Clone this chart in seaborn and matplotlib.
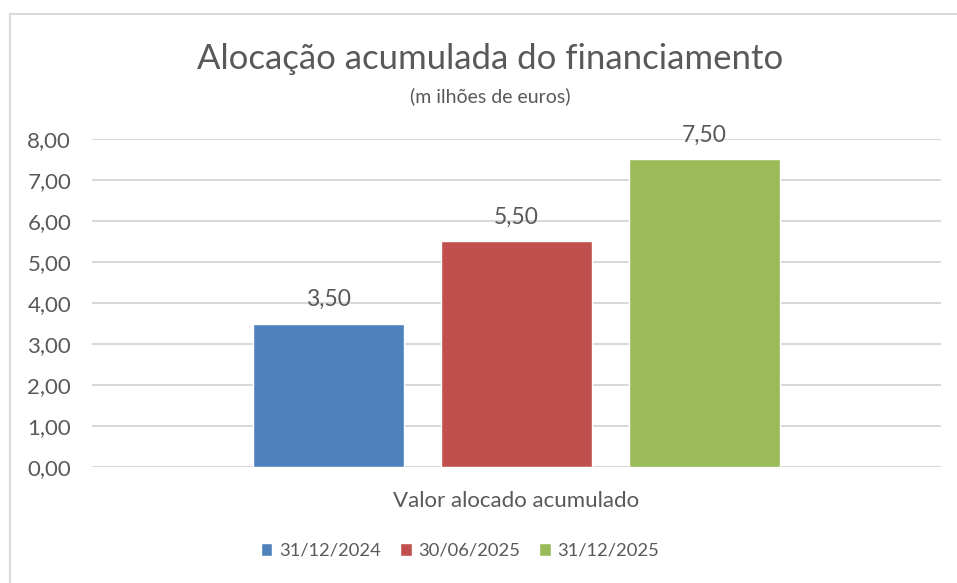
import matplotlib
matplotlib.use("Agg")
import matplotlib.pyplot as plt
from matplotlib.lines import Line2D
import seaborn as sns
import pandas as pd

category = ["Valor alocado acumulado"]
dates = ["31/12/2024", "30/06/2025", "31/12/2025"]
values = [3.50, 5.50, 7.50]
colors = ["#4F81BD", "#C0504D", "#9BBB59"]
yticks = [0, 1, 2, 3, 4, 5, 6, 7, 8]

df = pd.DataFrame({"cat": category * len(dates), "data": dates, "valor": values})

sns.set_theme(style="white")
plt.rcParams["font.family"] = ["Lato", "DejaVu Sans"]
text_color = "#595959"
grid_color = "#D9D9D9"

W, H = 957, 583
fig = plt.figure(figsize=(W / 100, H / 100), dpi=100)
ax = fig.add_axes([92 / W, 1 - 467 / H, (941 - 92) / W, (467 - 139) / H])

sns.barplot(data=df, x="cat", y="valor", hue="data", palette=colors,
            width=0.8, gap=0.2, saturation=1, ax=ax, legend=True)

ax.set_ylim(0, 8)
ax.set_xlim(-0.602, 0.602)
ax.set_yticks(yticks)
ax.set_yticklabels([f"{v:.2f}".replace(".", ",") for v in yticks],
                   color=text_color, fontsize=16)
ax.tick_params(axis="y", length=0, pad=15)
ax.tick_params(axis="x", length=0, pad=17, labelsize=16, labelcolor=text_color)
ax.set_xlabel("")
ax.set_ylabel("")
for s in ax.spines.values():
    s.set_visible(False)
ax.grid(axis="y", color=grid_color, linewidth=1.5)
ax.set_axisbelow(True)

for cont in ax.containers:
    ax.bar_label(cont, labels=[f"{v:.2f}".replace(".", ",") for v in cont.datavalues],
                 padding=10, fontsize=16.5, color=text_color)

leg = ax.legend(loc="center", bbox_to_anchor=(460 / W, 1 - 551 / H),
                bbox_transform=fig.transFigure, ncol=3, frameon=False,
                fontsize=13.2, handlelength=0.65, handleheight=0.65,
                handletextpad=0.35, columnspacing=1.05)
for t in leg.get_texts():
    t.set_color(text_color)

fig.text(490 / W, 1 - 59 / H, "Alocação acumulada do financiamento",
         ha="center", va="center", fontsize=25, color=text_color)
fig.text(490 / W, 1 - 96 / H, "(m ilhões de euros)",
         ha="center", va="center", fontsize=14, color=text_color)

fig.add_artist(Line2D([10 / W, 1], [1 - 14 / H, 1 - 14 / H],
                      transform=fig.transFigure, color=grid_color, linewidth=1.5))
fig.add_artist(Line2D([10 / W, 10 / W], [1 - 14 / H, 0],
                      transform=fig.transFigure, color=grid_color, linewidth=1.5))

fig.savefig("out.png", dpi=100)
